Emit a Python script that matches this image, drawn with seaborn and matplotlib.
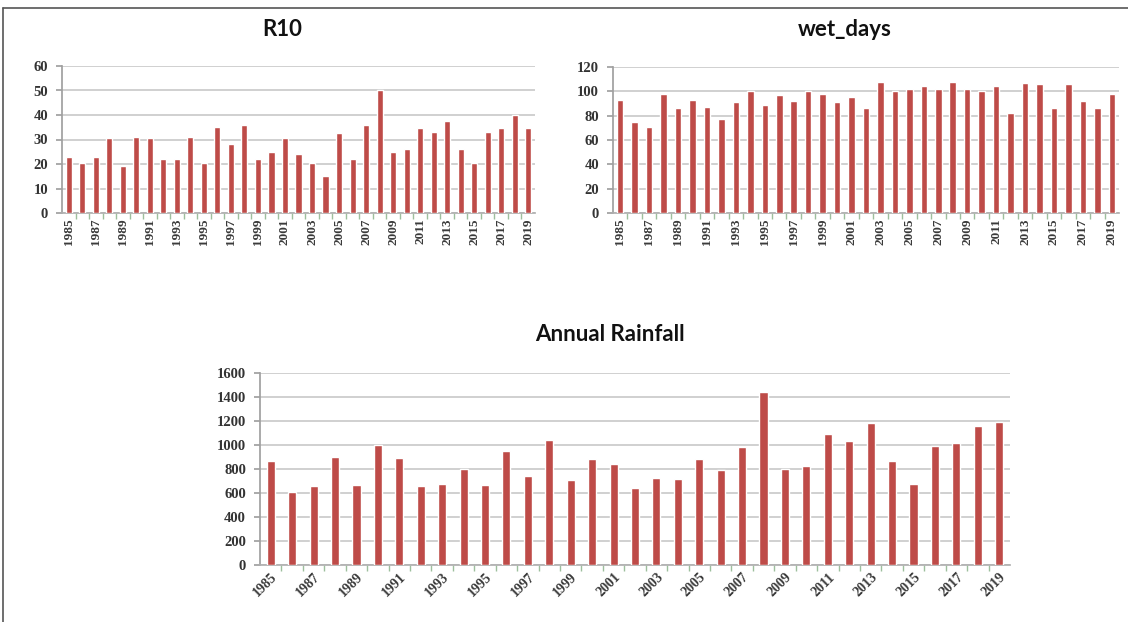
import matplotlib
matplotlib.use("Agg")
import matplotlib.pyplot as plt
import seaborn as sns
import pandas as pd
from matplotlib.lines import Line2D
from matplotlib.ticker import MultipleLocator

sns.set_theme(style="white")

years = list(range(1985, 2020))

r10 = [23, 20.5, 23, 30.5, 19, 31, 30.5, 22, 22, 31, 20.5, 35, 28, 36, 22, 25,
       30.5, 24, 20.5, 15, 32.5, 22, 36, 50, 25, 26, 34.5, 33, 37.5, 26, 20.5,
       33, 34.5, 40, 34.5]

wet_days = [93, 75, 71, 98, 86, 93, 87, 77, 91, 100, 89, 97, 92, 100, 98, 91,
            95, 86, 108, 100, 102, 104, 102, 108, 102, 100, 104, 82, 107, 106,
            86, 106, 92, 86, 98]

annual_rainfall = [869, 605, 661, 903, 667, 997, 889, 658, 675, 800, 667, 953,
                   744, 1042, 708, 881, 839, 639, 722, 714, 883, 792, 981, 1439,
                   800, 825, 1092, 1033, 1186, 867, 672, 994, 1014, 1161, 1194]

BAR = "#BE4B48"
GRID = "#C8C8C8"
W, H = 1128, 622

fig = plt.figure(figsize=(W / 100, H / 100), dpi=100)
fig.patch.set_facecolor("white")


def px_axes(left, top, right, bottom):
    return fig.add_axes([left / W, 1 - bottom / H, (right - left) / W, (bottom - top) / H])


def draw(ax, values, ymax, ystep, rot, width):
    df = pd.DataFrame({"year": [str(y) for y in years], "value": values})
    sns.barplot(data=df, x="year", y="value", color=BAR, width=width,
                saturation=1, ax=ax, zorder=3)
    ax.set_ylim(0, ymax)
    ax.set_xlim(-0.5, len(years) - 0.5)
    ax.yaxis.set_major_locator(MultipleLocator(ystep))
    ax.grid(axis="y", color=GRID, linewidth=1.2, zorder=0)
    ax.grid(axis="x", visible=False)
    for s in ["top", "right"]:
        ax.spines[s].set_visible(False)
    ax.spines["left"].set_color("#A0A0A0")
    ax.spines["bottom"].set_color("#B0B0B0")
    ax.set_xlabel("")
    ax.set_ylabel("")
    ticks = list(range(0, len(years), 2))
    ax.set_xticks(ticks)
    if rot == 90:
        ax.set_xticklabels([str(years[i]) for i in ticks], rotation=90,
                           fontsize=9.5, fontweight="bold",
                           family="Liberation Serif", color="#3A3A3A")
    else:
        ax.set_xticklabels([str(years[i]) for i in ticks], rotation=45,
                           ha="right", rotation_mode="anchor",
                           fontsize=10, fontweight="bold",
                           family="Liberation Serif", color="#3A3A3A")
    ax.set_xticks([i + 0.5 for i in range(len(years) - 1)], minor=True)
    ax.tick_params(axis="x", which="major", length=0, pad=4)
    ax.tick_params(axis="x", which="minor", length=4, color="#9DBF9D", bottom=True)
    ax.tick_params(axis="y", length=4, color="#A0A0A0", left=True, pad=6)
    for lab in ax.get_yticklabels():
        lab.set_fontfamily("Liberation Serif")
        lab.set_fontsize(10.5)
        lab.set_fontweight("bold")
        lab.set_color("#333333")


ax1 = px_axes(62, 66, 535, 213)
draw(ax1, r10, 60, 10, 90, 0.45)

ax2 = px_axes(613, 67, 1119, 213)
draw(ax2, wet_days, 120, 20, 90, 0.45)

ax3 = px_axes(260, 373, 1010, 565)
draw(ax3, annual_rainfall, 1600, 200, 45, 0.38)

title_kw = dict(ha="center", va="center", fontsize=16, fontweight="bold",
                family="Lato", color="#111111")
fig.text(282 / W, 1 - 30 / H, "R10", **title_kw)
fig.text(845 / W, 1 - 30 / H, "wet_days", **title_kw)
fig.text(610 / W, 1 - 335 / H, "Annual Rainfall", **title_kw)

# page frame around the figure
fig.add_artist(Line2D([3 / W, 1], [1 - 8 / H, 1 - 8 / H], color="#555555", linewidth=1.2))
fig.add_artist(Line2D([3 / W, 3 / W], [0, 1 - 8 / H], color="#555555", linewidth=1.2))

fig.savefig("out.png", dpi=100, facecolor="white")
